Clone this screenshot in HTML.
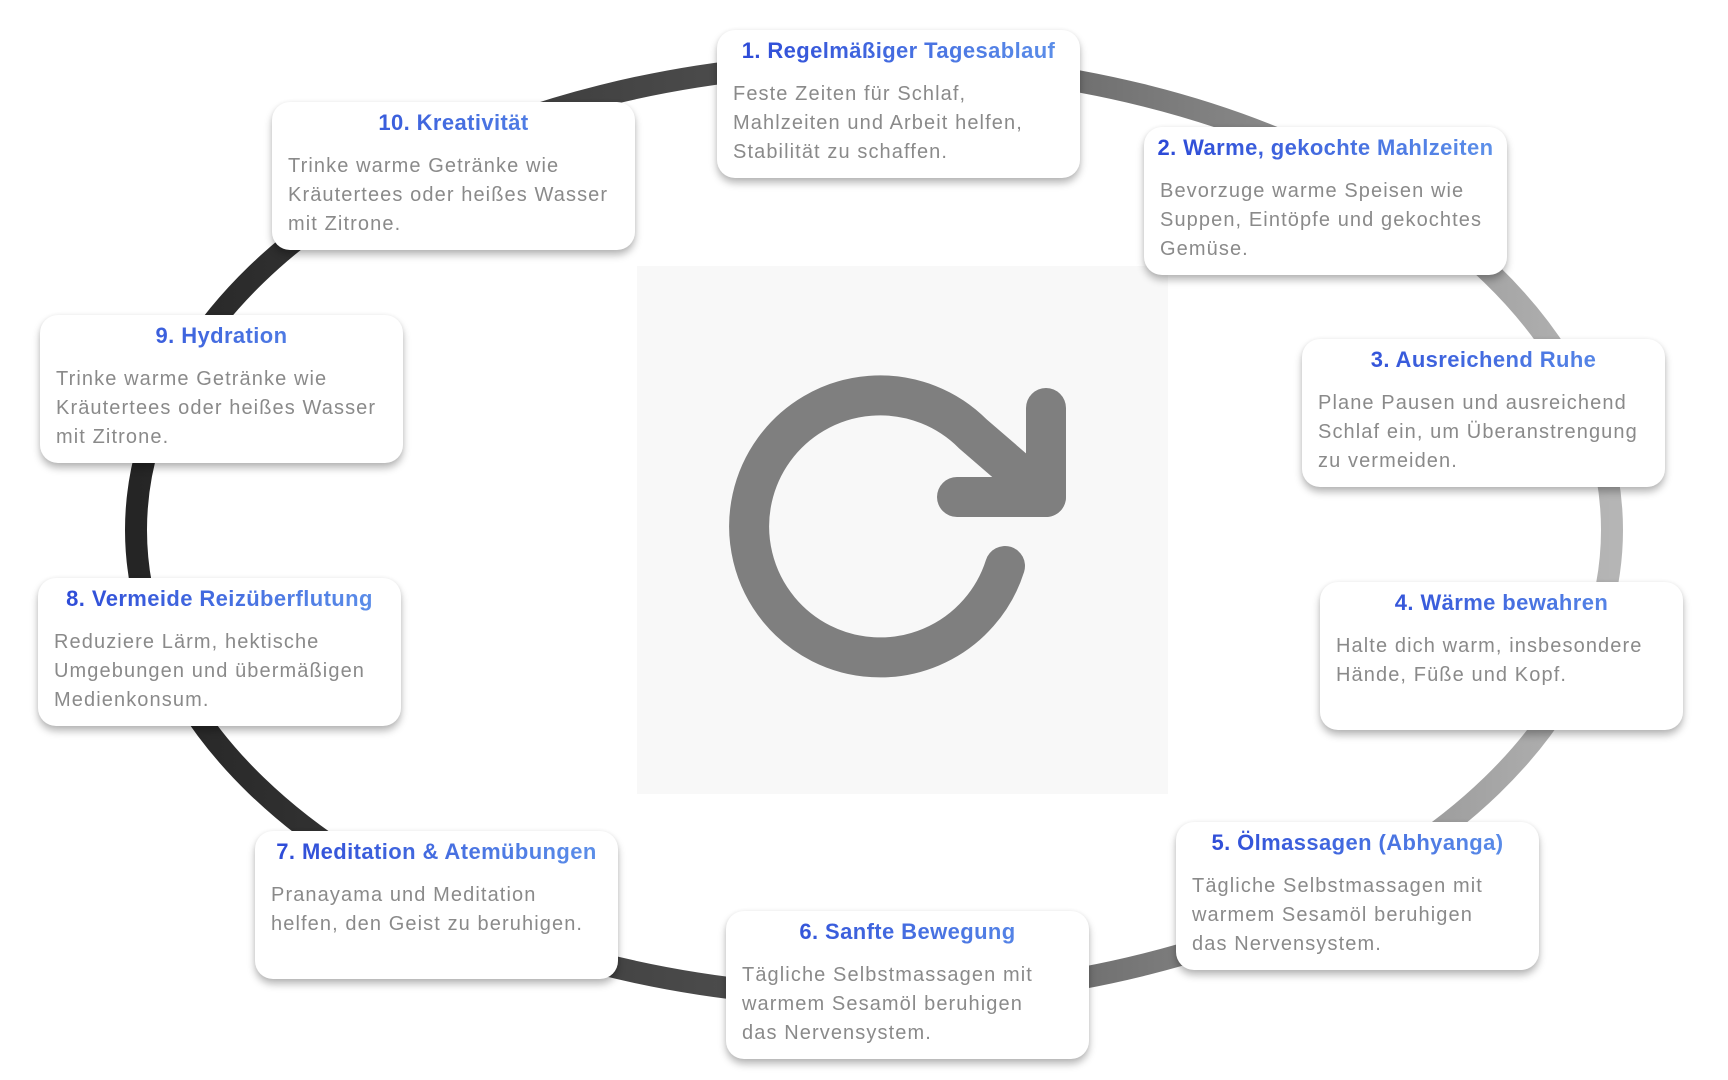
<!DOCTYPE html>
<html><head><meta charset="utf-8"><style>
body{margin:0;width:1728px;height:1080px;background:#fff;position:relative;overflow:hidden;font-family:"Liberation Sans",sans-serif}
.b{position:absolute;width:363px;height:148px;background:#fff;border-radius:18px;box-shadow:0 5px 8px rgba(0,0,0,.28),0 0 4px rgba(0,0,0,.06);box-sizing:border-box}
.t{text-align:center;font-weight:bold;font-size:22px;letter-spacing:.4px;margin-top:8px;height:26px;line-height:26px;background:linear-gradient(90deg,#2a46d6,#5f93ea);-webkit-background-clip:text;background-clip:text;color:transparent;white-space:nowrap}
.d{padding:0 4px 0 16px;margin-top:16px;font-size:20px;line-height:29px;color:#8a8a8a;white-space:nowrap;letter-spacing:1.1px}
</style></head><body>
<svg width="1728" height="1080" style="position:absolute;left:0;top:0">
<defs><linearGradient id="g" x1="0" x2="1" y1="0" y2="0"><stop offset="0" stop-color="#252525"/><stop offset=".5" stop-color="#555"/><stop offset="1" stop-color="#b5b5b5"/></linearGradient></defs>
<ellipse cx="874" cy="530" rx="738" ry="467" fill="none" stroke="url(#g)" stroke-width="22"/>
<rect x="637" y="266" width="531" height="528" fill="#f8f8f8"/>
<g fill="none" stroke="#7f7f7f" stroke-width="40" stroke-linecap="round" stroke-linejoin="round">
<path d="M1005,566 A131,131 0 1 1 973,434 L1046,497"/>
<path d="M1046,408 L1046,497 L957,497"/>
</g>
</svg>
<div class="b" style="left:717px;top:30px"><div class="t">1. Regelmäßiger Tagesablauf</div><div class="d">Feste Zeiten für Schlaf,<br>Mahlzeiten und Arbeit helfen,<br>Stabilität zu schaffen.</div></div>
<div class="b" style="left:1144px;top:127px"><div class="t">2. Warme, gekochte Mahlzeiten</div><div class="d">Bevorzuge warme Speisen wie<br>Suppen, Eintöpfe und gekochtes<br>Gemüse.</div></div>
<div class="b" style="left:1302px;top:339px"><div class="t">3. Ausreichend Ruhe</div><div class="d">Plane Pausen und ausreichend<br>Schlaf ein, um Überanstrengung<br>zu vermeiden.</div></div>
<div class="b" style="left:1320px;top:582px"><div class="t">4. Wärme bewahren</div><div class="d">Halte dich warm, insbesondere<br>Hände, Füße und Kopf.</div></div>
<div class="b" style="left:1176px;top:822px"><div class="t">5. Ölmassagen (Abhyanga)</div><div class="d">Tägliche Selbstmassagen mit<br>warmem Sesamöl beruhigen<br>das Nervensystem.</div></div>
<div class="b" style="left:726px;top:911px"><div class="t">6. Sanfte Bewegung</div><div class="d">Tägliche Selbstmassagen mit<br>warmem Sesamöl beruhigen<br>das Nervensystem.</div></div>
<div class="b" style="left:255px;top:831px"><div class="t">7. Meditation &amp; Atemübungen</div><div class="d">Pranayama und Meditation<br>helfen, den Geist zu beruhigen.</div></div>
<div class="b" style="left:38px;top:578px"><div class="t">8. Vermeide Reizüberflutung</div><div class="d">Reduziere Lärm, hektische<br>Umgebungen und übermäßigen<br>Medienkonsum.</div></div>
<div class="b" style="left:40px;top:315px"><div class="t">9. Hydration</div><div class="d">Trinke warme Getränke wie<br>Kräutertees oder heißes Wasser<br>mit Zitrone.</div></div>
<div class="b" style="left:272px;top:102px"><div class="t">10. Kreativität</div><div class="d">Trinke warme Getränke wie<br>Kräutertees oder heißes Wasser<br>mit Zitrone.</div></div>
</body></html>
